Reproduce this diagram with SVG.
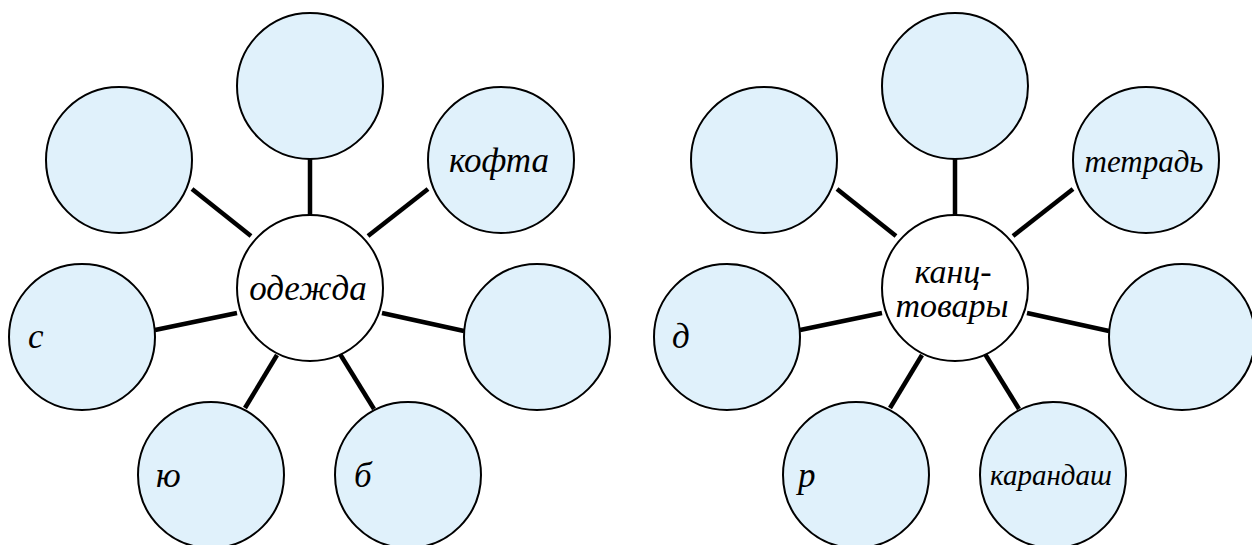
<svg xmlns="http://www.w3.org/2000/svg" width="1252" height="545" viewBox="0 0 1252 545">
<style>
.n{fill:#e0f1fb;stroke:#000;stroke-width:2}
.c{fill:#fff;stroke:#000;stroke-width:2}
.e{stroke:#000;stroke-width:4.5;fill:none}
text{font-family:"Liberation Serif","Times New Roman",serif;font-style:italic;fill:#000}
</style>
<rect width="1252" height="545" fill="#fff"/>
<g id="connectors">
<g id="connectors-left">
<line class="e" x1="310" y1="158" x2="310" y2="215"/>
<line class="e" x1="192" y1="189" x2="251" y2="236"/>
<line class="e" x1="428" y1="189" x2="368" y2="236"/>
<line class="e" x1="155" y1="330" x2="237" y2="313"/>
<line class="e" x1="382" y1="313" x2="464" y2="331"/>
<line class="e" x1="277" y1="355" x2="245" y2="408"/>
<line class="e" x1="340" y1="354" x2="374" y2="409"/>
</g>
<g id="connectors-right" transform="translate(645,0)">
<line class="e" x1="310" y1="158" x2="310" y2="215"/>
<line class="e" x1="192" y1="189" x2="251" y2="236"/>
<line class="e" x1="428" y1="189" x2="368" y2="236"/>
<line class="e" x1="155" y1="330" x2="237" y2="313"/>
<line class="e" x1="382" y1="313" x2="464" y2="331"/>
<line class="e" x1="277" y1="355" x2="245" y2="408"/>
<line class="e" x1="340" y1="354" x2="374" y2="409"/>
</g>
</g>
<g id="odezhda-center"><circle class="c" cx="310" cy="288" r="73"/><text x="308" y="300" font-size="35" text-anchor="middle">одежда</text></g>
<g id="odezhda-top"><circle class="n" cx="310" cy="86" r="73"/></g>
<g id="odezhda-upleft"><circle class="n" cx="119" cy="160" r="73"/></g>
<g id="odezhda-kofta"><circle class="n" cx="501" cy="160" r="73"/><text x="499" y="172" font-size="35" text-anchor="middle">кофта</text></g>
<g id="odezhda-s"><circle class="n" cx="82" cy="337" r="73"/><text x="28" y="348" font-size="35">с</text></g>
<g id="odezhda-right"><circle class="n" cx="537" cy="337" r="73"/></g>
<g id="odezhda-yu"><circle class="n" cx="211" cy="475" r="73"/><text x="156" y="487" font-size="35">ю</text></g>
<g id="odezhda-b"><circle class="n" cx="408" cy="475" r="73"/><text x="354" y="487" font-size="35">б</text></g>

<g id="kanc-center"><circle class="c" cx="955" cy="288" r="73"/><text x="953" y="283" font-size="34" text-anchor="middle">канц-</text><text x="952" y="317" font-size="34" text-anchor="middle">товары</text></g>
<g id="kanc-top"><circle class="n" cx="955" cy="86" r="73"/></g>
<g id="kanc-upleft"><circle class="n" cx="764" cy="160" r="73"/></g>
<g id="kanc-tetrad"><circle class="n" cx="1146" cy="160" r="73"/><text x="1144" y="172" font-size="31" text-anchor="middle">тетрадь</text></g>
<g id="kanc-d"><circle class="n" cx="727" cy="337" r="73"/><text x="672" y="348" font-size="35">д</text></g>
<g id="kanc-right"><circle class="n" cx="1182" cy="337" r="73"/></g>
<g id="kanc-r"><circle class="n" cx="856" cy="475" r="73"/><text x="798" y="487" font-size="35">р</text></g>
<g id="kanc-karandash"><circle class="n" cx="1053" cy="475" r="73"/><text x="1051" y="485" font-size="29" text-anchor="middle">карандаш</text></g>
</svg>
